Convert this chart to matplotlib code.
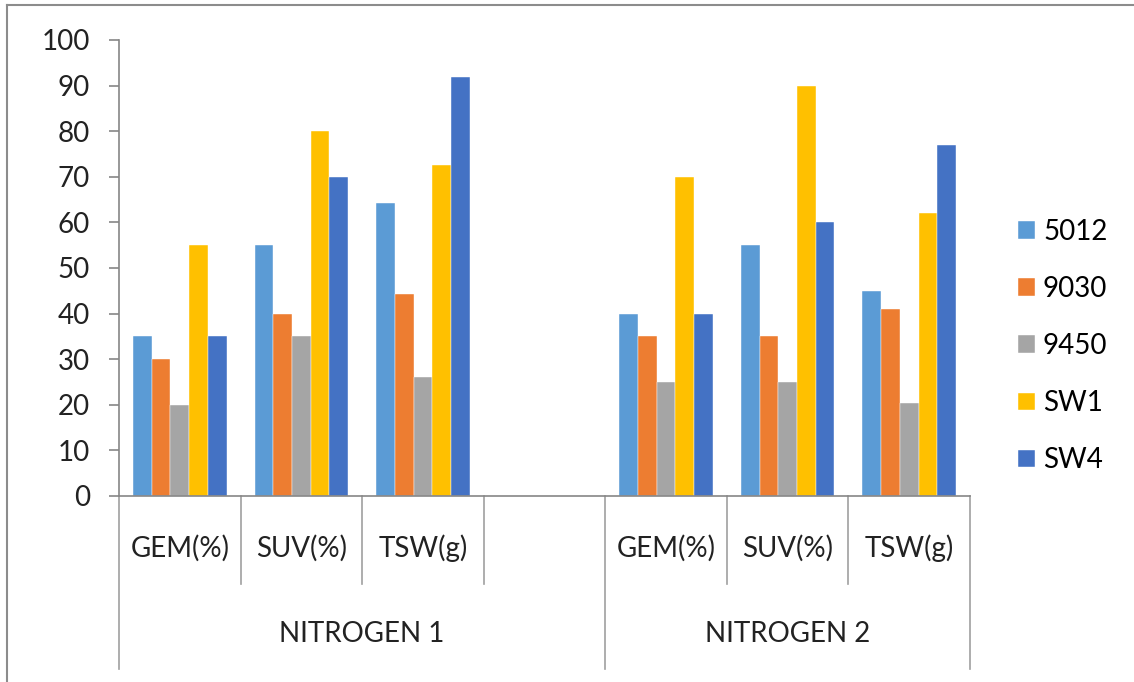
import matplotlib.pyplot as plt
import numpy as np

plt.rcParams['font.family'] = ['Lato', 'DejaVu Sans']

# data
categories = ['GEM(%)', 'SUV(%)', 'TSW(g)', '', 'GEM(%)', 'SUV(%)', 'TSW(g)']
groups = ['NITROGEN 1', 'NITROGEN 2']
series = ['5012', '9030', '9450', 'SW1', 'SW4']
colors = ['#5B9BD5', '#ED7D31', '#A5A5A5', '#FFC000', '#4472C4']

v5012 = [35, 55, 64.3, np.nan, 40, 55, 45]
v9030 = [30, 40, 44.4, np.nan, 35, 35, 41]
v9450 = [20, 35, 26, np.nan, 25, 25, 20.3]
vsw1 = [55, 80, 72.6, np.nan, 70, 90, 62]
vsw4 = [35, 70, 91.8, np.nan, 40, 60, 77]
values = [v5012, v9030, v9450, vsw1, vsw4]

fig = plt.figure(figsize=(11.34, 6.82), dpi=100)
ax = fig.add_axes([119/1134, 1-496/682, (970-119)/1134, (496-40)/682])

x = np.arange(len(categories))
w = 0.77/len(series)
for i, (name, vals) in enumerate(zip(series, values)):
    ax.bar(x + (i-2)*w, vals, w, color=colors[i], label=name,
           edgecolor='white', linewidth=0.3)

ax.set_xlim(-0.5, len(categories)-0.5)
ax.set_ylim(0, 100)
ax.set_yticks(np.arange(0, 101, 10))
ax.tick_params(axis='y', labelsize=20, length=7, width=1.2, color='#868686', pad=14,
               labelcolor='#222222')
ax.set_xticks([])
for s in ['top', 'right']:
    ax.spines[s].set_visible(False)
for s in ['left', 'bottom']:
    ax.spines[s].set_color('#868686')
    ax.spines[s].set_linewidth(1.2)

# multi level category axis
trans = ax.get_xaxis_transform()
for b in np.arange(-0.5, len(categories), 1.0):
    outer = b in (-0.5, 3.5, 6.5)
    ax.plot([b, b], [0, -0.38 if outer else -0.193], color='#a0a0a0', lw=1.2,
            transform=trans, clip_on=False)
for xi, c in zip(x, categories):
    ax.text(xi, -0.114, c, transform=trans, ha='center', va='center', fontsize=20, color='#222222')
ax.text(1.5, -0.303, groups[0], transform=trans, ha='center', va='center', fontsize=20, color='#222222')
ax.text(5.0, -0.303, groups[1], transform=trans, ha='center', va='center', fontsize=20, color='#222222')

fig.legend(loc='center left', bbox_to_anchor=(1018/1134, 1-346/682), frameon=False,
           fontsize=20, handlelength=0.6, handleheight=0.6, handletextpad=0.3,
           labelspacing=1.12, borderpad=0, borderaxespad=0)

# chart border
fig.add_artist(plt.Line2D([7/1134, 1], [1-5/682, 1-5/682], color='#8c8c8c', lw=1.5))
fig.add_artist(plt.Line2D([7/1134, 7/1134], [0, 1-5/682], color='#8c8c8c', lw=1.5))

fig.savefig('out.png', dpi=100)
